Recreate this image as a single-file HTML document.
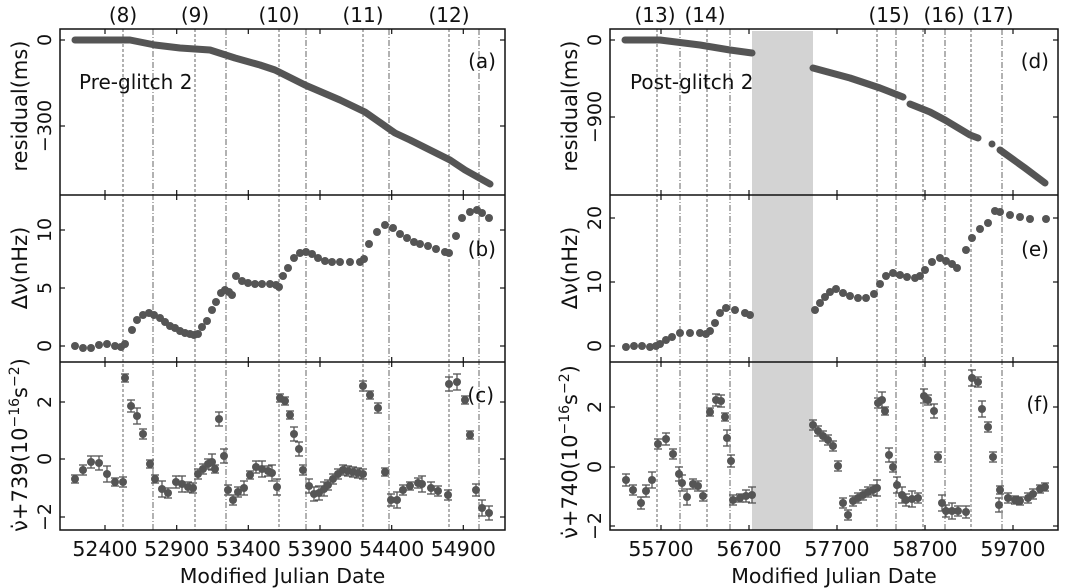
<!DOCTYPE html>
<html><head><meta charset="utf-8">
<style>
html,body{margin:0;padding:0;background:#fff;}
svg{display:block;font-family:"DejaVu Sans","Liberation Sans",sans-serif;}
</style></head>
<body>
<svg id="s" width="1076" height="588" viewBox="0 0 1076 588" xmlns="http://www.w3.org/2000/svg">
<rect x="752" y="31" width="61" height="499" fill="#d3d3d3"/>
<g id="g"></g>
</svg>
<script>
const NS="http://www.w3.org/2000/svg";
const g=document.getElementById('g');
function el(t,a,txt){const e=document.createElementNS(NS,t);for(const k in a)e.setAttribute(k,a[k]);if(txt!==undefined)e.textContent=txt;g.appendChild(e);return e;}
const C="#555";
function vl(x,dash,y0,y1){el('line',{x1:x,x2:x,y1:y0,y2:y1,stroke:'#666','stroke-width':1,'stroke-dasharray':dash?'3,2':'6,2,1,2'});}
[[123,1],[153,0],[195,1],[226,0],[279,1],[306,0],[363,1],[389,0],[449,1],[479,0]].forEach(v=>vl(v[0],v[1],29,530));
[[657,1],[680,0],[707,1],[730,0],[877,1],[896,0],[923,1],[945,0],[971,1],[1002,0]].forEach(v=>vl(v[0],v[1],29,530));
function curve(pts){el('polyline',{points:pts.map(p=>p.join(',')).join(' '),fill:'none',stroke:C,'stroke-width':7,'stroke-linecap':'round','stroke-linejoin':'round'});}
curve([[75,40],[130,40],[155,45],[180,48],[210,50],[235,58],[260,65],[275,70],[305,85],[340,100],[365,112],[395,133],[410,140],[450,160],[465,170],[490,184]]);
curve([[625,40],[660,40],[700,45],[730,50],[752,53]]);
curve([[813,68],[850,78],[880,88],[903,97]]);
curve([[910,104],[930,112],[945,120],[970,135],[978,138]]);
curve([[992,144],[992,144]]);
curve([[1000,150],[1025,168],[1045,183]]);
function dots(pts,r){pts.forEach(p=>el('circle',{cx:p[0],cy:p[1],r:r||4,fill:C}));}
function ebars(pts){pts.forEach(p=>{const h=4+(p[0]*7%5);el('line',{x1:p[0],x2:p[0],y1:p[1]-h,y2:p[1]+h,stroke:C,'stroke-width':1.3});el('line',{x1:p[0]-4,x2:p[0]+4,y1:p[1]-h,y2:p[1]-h,stroke:C,'stroke-width':1.3});el('line',{x1:p[0]-4,x2:p[0]+4,y1:p[1]+h,y2:p[1]+h,stroke:C,'stroke-width':1.3});});dots(pts,4);}
dots([[75,346],[83,348],[91,348],[99,345],[107,344],[115,346],[121,347],[125,344],[132,330],[137,320],[143,315],[149,313],[154,315],[160,318],[165,322],[170,326],[175,328],[180,331],[185,333],[190,334],[194,335],[198,334],[202,327],[207,321],[212,310],[216,302],[221,293],[225,290],[229,292],[232,295],[236,276],[242,281],[248,283],[255,284],[262,284],[270,284],[276,285],[279,287],[283,276],[288,268],[294,258],[300,253],[306,252],[312,254],[318,258],[325,261],[332,262],[340,262],[350,262],[360,262],[364,259],[369,244],[377,232],[385,225],[393,228],[400,234],[407,238],[414,242],[420,244],[428,246],[436,249],[445,252],[449,253],[456,236],[462,218],[470,212],[477,210],[482,213],[489,218]]);
ebars([[75,479],[83,470],[91,462],[99,463],[107,474],[115,482],[123,482],[125,378],[131,406],[137,416],[143,434],[150,464],[155,479],[162,489],[168,493],[176,482],[182,484],[188,487],[193,488],[198,474],[203,469],[208,464],[212,462],[215,469],[219,419],[224,456],[228,490],[233,500],[238,492],[244,488],[250,475],[256,467],[262,469],[268,471],[272,473],[277,487],[280,398],[285,401],[290,415],[294,434],[299,449],[303,470],[309,486],[314,494],[319,493],[324,489],[328,485],[333,479],[338,474],[343,470],[348,471],[353,472],[358,473],[363,474],[363,386],[370,395],[378,408],[385,472],[391,500],[397,500],[403,490],[410,486],[418,483],[422,484],[431,488],[438,491],[448,495],[449,384],[457,382],[465,400],[470,435],[476,490],[482,508],[489,513]]);
dots([[626,347],[634,346],[642,346],[650,347],[656,346],[660,344],[666,340],[672,337],[680,333],[690,333],[700,333],[706,334],[710,331],[715,323],[720,313],[726,308],[735,310],[745,313],[750,315],[815,310],[820,303],[825,297],[830,292],[836,289],[843,293],[850,296],[858,298],[866,298],[874,294],[880,284],[886,276],[893,273],[900,275],[907,277],[915,278],[920,276],[925,270],[932,262],[940,258],[946,261],[952,264],[957,268],[966,250],[972,238],[980,229],[988,223],[995,211],[1000,212],[1010,215],[1020,217],[1030,219],[1046,219]]);
ebars([[626,480],[633,490],[641,503],[646,491],[652,480],[658,444],[666,439],[673,454],[679,474],[682,483],[687,497],[693,484],[698,486],[703,496],[710,412],[716,400],[721,401],[725,417],[727,438],[731,461],[733,500],[740,498],[746,496],[752,495],[813,425],[818,431],[823,436],[828,440],[833,446],[838,466],[843,503],[848,515],[853,501],[858,498],[863,495],[868,492],[873,490],[877,488],[878,403],[882,400],[885,411],[889,455],[893,467],[897,485],[902,495],[906,500],[912,499],[918,498],[924,396],[928,400],[934,411],[938,457],[942,503],[946,511],[952,511],[958,511],[966,512],[972,378],[978,382],[982,409],[988,427],[993,457],[999,505],[1000,490],[1008,498],[1015,500],[1020,501],[1028,498],[1033,494],[1040,489],[1045,487]]);
function frame(x0,x1,ys,xt,yt){
 el('rect',{x:x0,y:ys[0],width:x1-x0,height:ys[3]-ys[0],fill:'none',stroke:'#111','stroke-width':1.5});
 el('line',{x1:x0,x2:x1,y1:ys[1],y2:ys[1],stroke:'#111','stroke-width':1.5});
 el('line',{x1:x0,x2:x1,y1:ys[2],y2:ys[2],stroke:'#111','stroke-width':1.5});
 for(let i=0;i<3;i++){xt.forEach(x=>{el('line',{x1:x,x2:x,y1:ys[i],y2:ys[i]+5,stroke:'#111','stroke-width':1.2});el('line',{x1:x,x2:x,y1:ys[i+1],y2:ys[i+1]-5,stroke:'#111','stroke-width':1.2});});
  yt[i].forEach(t=>{el('line',{x1:x0,x2:x0+5,y1:t[0],y2:t[0],stroke:'#111','stroke-width':1.2});el('line',{x1:x1,x2:x1-5,y1:t[0],y2:t[0],stroke:'#111','stroke-width':1.2});
   el('text',{x:0,y:0,transform:`translate(${x0-9},${t[0]}) rotate(-90)`,'text-anchor':'middle','font-size':19,fill:'#111'},t[1]);});}
 xt.forEach((x,i)=>el('text',{x:x,y:556,'text-anchor':'middle','font-size':20.5,fill:'#111'},xl[x0][i]));
 el('text',{x:(x0+x1)/2,y:583,'text-anchor':'middle','font-size':20.5,fill:'#111'},'Modified Julian Date');
}
const xl={60:['52400','52900','53400','53900','54400','54900'],610:['55700','56700','57700','58700','59700']};
frame(60,505,[29,195,362,530],[105,176.7,248.3,320,391.7,463.3],[[[40,'0'],[126,'\u2212300']],[[230,'10'],[288,'5'],[346,'0']],[[402,'2'],[459,'0'],[517,'\u22122']]]);
frame(610,1058,[29,195,362,530],[661,749,837,925,1013],[[[40,'0'],[117,'\u2212900']],[[218,'20'],[282,'10'],[346,'0']],[[407,'2'],[467,'0'],[526,'\u22122']]]);
function ylab(x,y,html){const t=el('text',{x:0,y:0,transform:`translate(${x},${y}) rotate(-90)`,'text-anchor':'middle','font-size':21,fill:'#111'});t.innerHTML=html;}
const sup='(10<tspan dy="-8" font-size="14">\u221216</tspan><tspan dy="8">s</tspan><tspan dy="-8" font-size="14">\u22122</tspan><tspan dy="8">)</tspan>';
ylab(27,106,'residual(ms)');ylab(27,268,'\u0394\u03bd(nHz)');ylab(27,445,'\u03bd\u0307+739'+sup);
ylab(577,106,'residual(ms)');ylab(577,268,'\u0394\u03bd(nHz)');ylab(577,452,'\u03bd\u0307+740'+sup);
function tx(x,y,s,a){el('text',{x:x,y:y,'text-anchor':a||'middle','font-size':20,fill:'#111'},s);}
tx(123,22,'(8)');tx(195,22,'(9)');tx(279,22,'(10)');tx(363,22,'(11)');tx(449,22,'(12)');
tx(655,22,'(13)');tx(705,22,'(14)');tx(889,22,'(15)');tx(944,22,'(16)');tx(993,22,'(17)');
tx(496,68,'(a)','end');tx(496,256,'(b)','end');tx(494,402,'(c)','end');
tx(1049,68,'(d)','end');tx(1049,256,'(e)','end');tx(1049,411,'(f)','end');
tx(79,89,'Pre-glitch 2','start');tx(630,89,'Post-glitch 2','start');
</script>
</body></html>
